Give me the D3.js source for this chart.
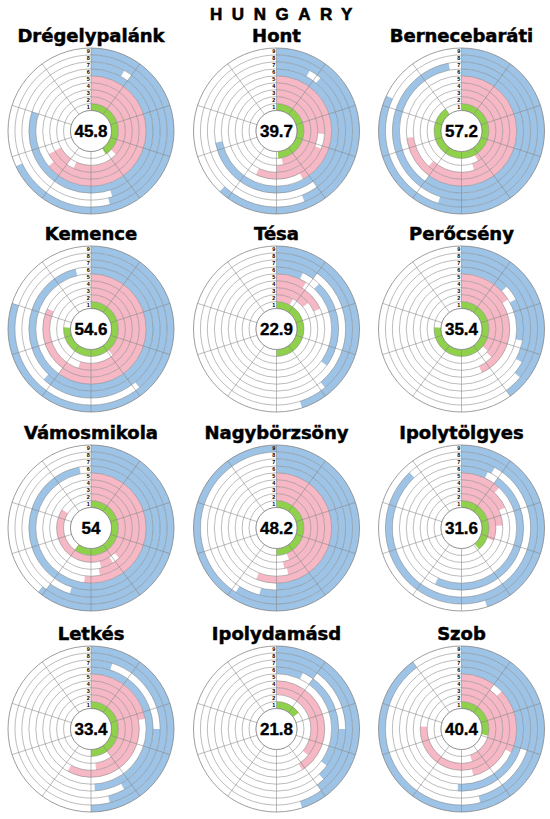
<!DOCTYPE html>
<html>
<head>
<meta charset="utf-8">
<script src="https://cdn.jsdelivr.net/npm/d3@7"></script>
<style>
  body { margin: 0; background: #fff; }
  text { font-family: "Liberation Sans", Arial, sans-serif; }
</style>
</head>
<body>
<div id="chart"></div>
<script>
var towns = ["Drégelypalánk", "Hont", "Bernecebaráti", "Kemence", "Tésa", "Perőcsény",
             "Vámosmikola", "Nagybörzsöny", "Ipolytölgyes", "Letkés", "Ipolydamásd", "Szob"];
var scores = ["45.8", "39.7", "57.2", "54.6", "22.9", "35.4", "54", "48.2", "31.6", "33.4", "21.8", "40.4"];
var ringLabels = ["1", "2", "3", "4", "5", "6", "7", "8", "9"];
var ringGroup = ["green", "pink", "pink", "pink", "pink", "blue", "blue", "blue", "blue"];

// each ring (1 = inner) holds a list of [from, to] spans, percent of the circle
var dregelypalank = [[[0,41]], [[0,37]], [[0,57],[60,67]], [[0,67]], [[0,64]], [[0,80]], [[0,8],[10,45]], [[0,46]], [[0,68]]];
var hont          = [[[0,49]], [[0,47]], [[0,50]], [[0,26],[31,57]], [[0,42]], [[0,72]], [[0,8],[11,40]], [[0,44]], [[0,62]]];
var bernecebarati = [[[0,90]], [[0,42]], [[0,45]], [[0,62]], [[0,73]], [[0,60]], [[0,97]], [[0,55]], [[0,82]]];
var kemence       = [[[0,76]], [[0,39]], [[0,55]], [[0,82]], [[0,60]], [[0,96]], [[0,62]], [[0,39]], [[0,80]]];
var tesa          = [[[0,50]], [[0,8]], [[0,14]], [[0,18]], [[0,9]], [[0,7],[12,35]], [[0,10]], [[0,39]], [[0,45]]];
var perocseny     = [[[0,76]], [[0,36]], [[0,37]], [[0,43]], [[0,16]], [[0,13],[17,28]], [[0,33]], [[0,36]], [[0,40]]];
var vamosmikola   = [[[0,60]], [[0,84]], [[0,38],[41,46]], [[0,47]], [[0,52]], [[0,97]], [[0,55]], [[0,60]], [[0,61]]];
var nagyborzsony  = [[[0,50]], [[0,44]], [[0,47]], [[0,46]], [[0,56]], [[0,50]], [[0,54]], [[0,59]], [[0,100]]];
var ipolytolgyes  = [[[0,39]], [[0,31]], [[0,24]], [[0,18]], [[0,12]], [[0,7],[10,57]], [[0,8]], [[0,88]], [[0,45]]];
var letkes        = [[[0,50]], [[0,40]], [[0,48]], [[0,58]], [[0,22]], [[0,49]], [[0,5],[25,42]], [[0,46]], [[0,50]]];
var ipolydamasd   = [[[0,15]], [], [[0,36]], [[0,41]], [], [[0,7],[10,35]], [[0,10],[25,38]], [[0,40]], [[0,45]]];
var szob          = [[[0,29]], [[0,45]], [[0,76]], [[0,46]], [[0,10],[13,32]], [[0,51]], [[0,30]], [[0,46]], [[0,90]]];

var ringData = [dregelypalank, hont, bernecebarati, kemence, tesa, perocseny,
                vamosmikola, nagyborzsony, ipolytolgyes, letkes, ipolydamasd, szob];

var colors = { green: "#8fd14a", pink: "#f5b8c4", blue: "#9dc3e6" };

var width = 550, height = 819;
var innerR = 20.5, outerR = 83;
var colX = [91, 276.5, 461.5];
var rowY = [131, 329, 528, 729];

var svg = d3.select("#chart").append("svg")
    .attr("width", width)
    .attr("height", height);

svg.append("text")
    .attr("x", width / 2 + 11)
    .attr("y", 20)
    .attr("text-anchor", "middle")
    .style("font-size", "17px")
    .style("font-weight", "bold")
    .style("letter-spacing", "9.5px")
    .style("stroke", "#000")
    .style("stroke-width", "0.6px")
    .text("HUNGARY");

var angle = d3.scaleLinear().domain([0, 100]).range([0, 2 * Math.PI]);
var radius = d3.scaleLinear().domain([0, ringLabels.length]).range([innerR, outerR]);
var arc = d3.arc();

function drawChart(i) {
    var cx = colX[i % 3];
    var cy = rowY[Math.floor(i / 3)];
    var g = svg.append("g").attr("transform", "translate(" + cx + "," + cy + ")");

    g.append("text")
        .attr("x", 0)
        .attr("y", -89)
        .attr("text-anchor", "middle")
        .style("font-family", "'DejaVu Sans', sans-serif")
        .style("font-size", "18px")
        .style("font-weight", "bold")
        .style("stroke", "#000")
        .style("stroke-width", "0.5px")
        .text(towns[i]);

    // flatten rings into spans
    var spans = [];
    ringData[i].forEach(function(ring, r) {
        ring.forEach(function(s) {
            spans.push({ ring: r, from: s[0], to: s[1] });
        });
    });

    g.selectAll(".bar")
        .data(spans)
        .enter().append("path")
        .attr("class", "bar")
        .attr("d", function(d) {
            return arc({
                innerRadius: radius(d.ring),
                outerRadius: radius(d.ring + 1),
                startAngle: angle(d.from),
                endAngle: angle(d.to)
            });
        })
        .style("fill", function(d) { return colors[ringGroup[d.ring]]; });

    // ring circles
    g.selectAll(".ring")
        .data(d3.range(ringLabels.length + 1))
        .enter().append("circle")
        .attr("class", "ring")
        .attr("r", function(d) { return radius(d); })
        .style("fill", "none")
        .style("stroke", "#858585")
        .style("stroke-width", function(d) { return d == ringLabels.length ? 0.8 : 0.55; });

    // spokes every tenth
    g.selectAll(".spoke")
        .data(d3.range(0, 100, 10))
        .enter().append("line")
        .attr("class", "spoke")
        .attr("x1", function(d) { return innerR * Math.sin(angle(d)); })
        .attr("y1", function(d) { return -innerR * Math.cos(angle(d)); })
        .attr("x2", function(d) { return outerR * Math.sin(angle(d)); })
        .attr("y2", function(d) { return -outerR * Math.cos(angle(d)); })
        .style("stroke", "#858585")
        .style("stroke-width", 0.55);

    g.append("circle")
        .attr("r", innerR)
        .style("fill", "#fff")
        .style("stroke", "#777")
        .style("stroke-width", 0.7);

    g.selectAll(".rlabel")
        .data(ringLabels)
        .enter().append("text")
        .attr("class", "rlabel")
        .attr("x", -1.2)
        .attr("y", function(d, k) { return -(radius(k) + radius(k + 1)) / 2 + 2; })
        .attr("text-anchor", "end")
        .style("font-size", "5.5px")
        .style("font-weight", "bold")
        .text(function(d) { return d; });

    g.append("text")
        .attr("x", 0)
        .attr("y", 6)
        .attr("text-anchor", "middle")
        .style("font-size", "17px")
        .style("font-weight", "bold")
        .style("stroke", "#000")
        .style("stroke-width", "0.35px")
        .text(scores[i]);
}

for (var i = 0; i < towns.length; i++) {
    drawChart(i);
}
</script>
</body>
</html>
